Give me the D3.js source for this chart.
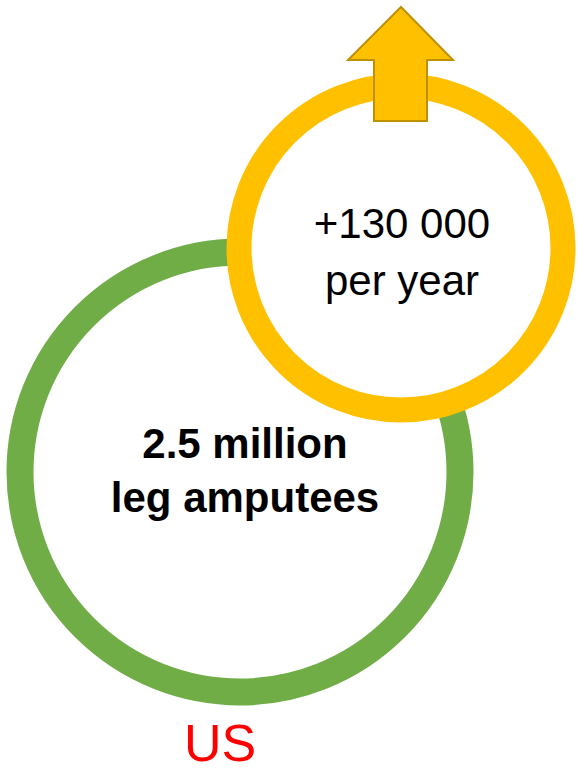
<!DOCTYPE html>
<html>
<head>
<meta charset="utf-8">
<script src="https://cdn.jsdelivr.net/npm/d3@7"></script>
<style>
  html, body { margin: 0; padding: 0; background: #fff; }
  svg { display: block; }
</style>
</head>
<body>
<svg id="chart" width="578" height="772"></svg>
<script>
// Data
const groups = ["total", "annual"];
const groupLines = [["2.5 million", "leg amputees"], ["+130 000", "per year"]];
const groupColors = ["#70AD47", "#FFC000"];
const regionLabel = "US";

// Layout
const svg = d3.select("#chart");
const layout = {
  total:  { cx: 240, cy: 472, r: 220, sw: 27, fontSize: 42, weight: "bold", textX: 245, baseline: 458, lineGap: 54 },
  annual: { cx: 401, cy: 248, r: 162, sw: 25, fontSize: 42, weight: "normal", textX: 402, baseline: 238, lineGap: 57 }
};
const font = "'Liberation Sans', Arial, sans-serif";

groups.forEach((g, i) => {
  const L = layout[g];
  svg.append("circle")
    .attr("cx", L.cx).attr("cy", L.cy).attr("r", L.r)
    .attr("fill", "#fff")
    .attr("stroke", groupColors[i])
    .attr("stroke-width", L.sw);

  if (g === "annual") {
    // up arrow
    const arrow = [[401, 7], [453, 60], [427, 60], [427, 121], [374, 121], [374, 60], [348, 60]];
    svg.append("path")
      .attr("d", d3.line()(arrow) + "Z")
      .attr("fill", "#FFC000")
      .attr("stroke", "#BF9000")
      .attr("stroke-width", 2)
      .attr("stroke-linejoin", "miter");
  }

  svg.append("g").selectAll("text")
    .data(groupLines[i])
    .join("text")
    .attr("x", L.textX)
    .attr("y", (d, j) => L.baseline + j * L.lineGap)
    .attr("text-anchor", "middle")
    .attr("font-family", font)
    .attr("font-size", L.fontSize)
    .attr("font-weight", L.weight)
    .attr("fill", "#000")
    .text(d => d);
});

svg.append("text")
  .attr("x", 220).attr("y", 761)
  .attr("text-anchor", "middle")
  .attr("font-family", font)
  .attr("font-size", 52)
  .attr("fill", "#FF0000")
  .text(regionLabel);
</script>
</body>
</html>
